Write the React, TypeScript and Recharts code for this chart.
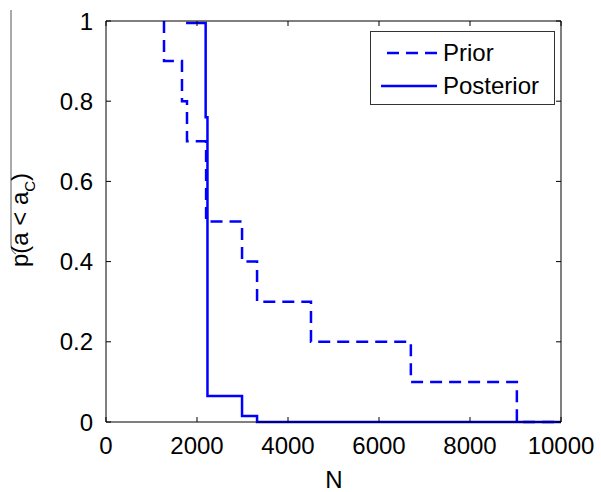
import { LineChart, Line, XAxis, YAxis } from "recharts";

const FONT = "'Liberation Sans', Arial, Helvetica, sans-serif";
const BLUE = "#0000ff";

const seriesNames = ["Prior", "Posterior"];

const priorN = [1275, 1275, 1670, 1780, 2200, 2990, 3320, 4505, 6700, 9030, 10000];
const priorP = [1, 0.9, 0.8, 0.7, 0.5, 0.4, 0.3, 0.2, 0.1, 0, 0];

const posteriorN = [1760, 2190, 2230, 2990, 3320, 10000];
const posteriorP = [0.995, 0.76, 0.065, 0.015, 0, 0];

const xTicks = [0, 2000, 4000, 6000, 8000, 10000];
const yTicks = [0, 0.2, 0.4, 0.6, 0.8, 1];

const priorData = priorN.map((n, i) => ({ n, p: priorP[i] }));
const posteriorData = posteriorN.map((n, i) => ({ n, p: posteriorP[i] }));

const tickStyle = { fontSize: 24, fill: "#000", fontFamily: FONT };
const noLabel = () => <g />;

const YLabel = () => (
  <g>
    <path d="M11,10 L11,244 Q11,252 16,254" stroke="#555" strokeWidth={1} fill="none" />
    <text
      transform="translate(28,220) rotate(-90)"
      textAnchor="middle"
      fontSize={24}
      fontFamily={FONT}
      fill="#000"
    >
      <tspan>p(a &lt; a</tspan>
      <tspan dy={7} fontSize={15}>C</tspan>
      <tspan dy={-7}>)</tspan>
    </text>
  </g>
);

const XLabel = () => (
  <text x={334} y={488} textAnchor="middle" fontSize={24} fontFamily={FONT} fill="#000">
    N
  </text>
);

// legend drawn by hand, MATLAB style box in the upper right
const LegendBox = () => (
  <div
    style={{
      position: "absolute",
      left: 370,
      top: 31,
      width: 183,
      height: 72,
      border: "1px solid #333",
      background: "#fff",
      fontFamily: FONT,
      fontSize: 24,
      color: "#000",
    }}
  >
    {seriesNames.map((name, i) => (
      <div key={name} style={{ display: "flex", alignItems: "center", height: 33, marginTop: i === 0 ? 4 : 0 }}>
        <svg width={70} height={10} style={{ marginLeft: 6 }}>
          <line
            x1={i === 0 ? 10 : 4}
            y1={5}
            x2={60}
            y2={5}
            stroke={BLUE}
            strokeWidth={2.5}
            strokeDasharray={i === 0 ? "12 7" : undefined}
          />
        </svg>
        <span style={{ marginLeft: -4 }}>{name}</span>
      </div>
    ))}
  </div>
);

export default function App() {
  return (
    <div style={{ position: "absolute", left: 0, top: 0, width: 601, height: 492, background: "#fff" }}>
      <LineChart width={601} height={492} margin={{ top: 20, right: 39, bottom: 0, left: 0 }}>
        <XAxis
          xAxisId="b"
          dataKey="n"
          type="number"
          domain={[0, 10000]}
          ticks={xTicks}
          allowDataOverflow
          height={70}
          stroke="#000"
          tickSize={-5}
          tickMargin={20}
          tick={tickStyle}
          label={{ content: () => <XLabel /> }}
        />
        <XAxis
          xAxisId="t"
          orientation="top"
          dataKey="n"
          type="number"
          domain={[0, 10000]}
          ticks={xTicks}
          allowDataOverflow
          height={1}
          stroke="#000"
          tickSize={-5}
          tick={noLabel}
        />
        <YAxis
          yAxisId="l"
          type="number"
          domain={[0, 1]}
          ticks={yTicks}
          width={106}
          stroke="#000"
          tickSize={-5}
          tickMargin={18}
          tick={tickStyle}
          label={{ content: () => <YLabel /> }}
        />
        <YAxis
          yAxisId="r"
          orientation="right"
          type="number"
          domain={[0, 1]}
          ticks={yTicks}
          allowDataOverflow
          width={1}
          stroke="#000"
          tickSize={-5}
          tick={noLabel}
        />
        {/* invisible copy so the top/right box axes get a scale */}
        <Line
          xAxisId="t"
          yAxisId="r"
          data={priorData}
          dataKey="p"
          stroke="none"
          dot={false}
          activeDot={false}
          legendType="none"
          isAnimationActive={false}
        />
        <Line
          name={seriesNames[0]}
          xAxisId="b"
          yAxisId="l"
          data={priorData}
          dataKey="p"
          type="stepAfter"
          stroke={BLUE}
          strokeWidth={2.5}
          strokeDasharray="12 7"
          dot={false}
          isAnimationActive={false}
        />
        <Line
          name={seriesNames[1]}
          xAxisId="b"
          yAxisId="l"
          data={posteriorData}
          dataKey="p"
          type="stepAfter"
          stroke={BLUE}
          strokeWidth={2.5}
          dot={false}
          isAnimationActive={false}
        />
      </LineChart>
      <LegendBox />
    </div>
  );
}
